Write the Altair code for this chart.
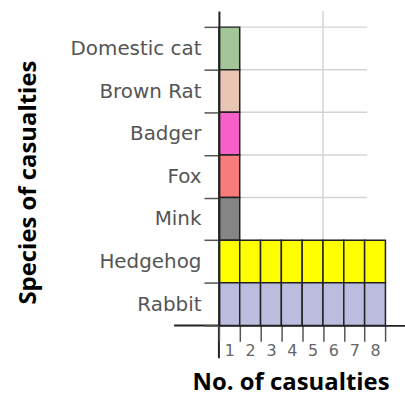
import altair as alt
import pandas as pd

species = ["Domestic cat", "Brown Rat", "Badger", "Fox", "Mink", "Hedgehog", "Rabbit"]
counts = [1, 1, 1, 1, 1, 8, 8]
colors = ["#a3c598", "#e9c5b4", "#f660c8", "#f97c7c", "#858585", "#ffff00", "#bcbcdf"]
units = [1, 2, 3, 4, 5, 6, 7, 8]
grid_units = [5]

rows = [{"species": s, "unit": u} for s, c in zip(species, counts) for u in range(1, c + 1)]
df = pd.DataFrame(rows)

W, H = 187, 316

yscale = alt.Scale(domain=species, paddingInner=0, paddingOuter=0.19, align=1)
xscale = alt.Scale(domain=units, paddingInner=0, paddingOuter=0.47, align=0)

xaxis = alt.Axis(
    title="No. of casualties",
    tickBand="extent",
    labelAngle=0,
    tickSize=16,
    tickWidth=1.5,
    tickColor="#555555",
    labelPadding=1,
    labelFont="DejaVu Sans",
    labelFontSize=16,
    labelColor="#666666",
    domainColor="#222222",
    domainWidth=2,
    grid=False,
    titleFont="Open Sans",
    titleFontWeight="bold",
    titleFontSize=24,
    titleColor="#000000",
    titleX=72,
    titleY=57,
    titleBaseline="middle",
    titleAlign="center",
    zindex=1,
)

yaxis = alt.Axis(
    title="Species of casualties",
    tickBand="extent",
    tickSize=15,
    tickWidth=1.5,
    tickColor="#555555",
    labelPadding=3,
    labelFont="DejaVu Sans",
    labelFontSize=20,
    labelColor="#555555",
    domainColor="#222222",
    domainWidth=2,
    grid=False,
    titleFont="Open Sans",
    titleFontWeight="bold",
    titleFontSize=24,
    titleColor="#000000",
    titleX=-191,
    titleY=172,
    titleBaseline="middle",
    titleAngle=-90,
    zindex=1,
)

hgrid = alt.Chart(pd.DataFrame({"species": species})).mark_rule(
    color="#d4d4d4", strokeWidth=1.5
).encode(
    y=alt.Y("species:N", scale=yscale, sort=species, bandPosition=0, axis=yaxis),
    x=alt.value(0),
    x2=alt.value(149),
)

vgrid = alt.Chart(pd.DataFrame({"unit": grid_units})).mark_rule(
    color="#d4d4d4", strokeWidth=1.5
).encode(
    x=alt.X("unit:O", scale=xscale, bandPosition=1, axis=xaxis),
    y=alt.value(0),
    y2=alt.value(H),
)

# extensions of the axis lines beyond the plot frame, as in the reference
axis_ext = alt.Chart(pd.DataFrame({"k": [0]})).mark_rule(color="#222222", strokeWidth=2).encode(
    x=alt.value(-45), x2=alt.value(0), y=alt.value(H)
)
axis_ext2 = alt.Chart(pd.DataFrame({"k": [0]})).mark_rule(color="#222222", strokeWidth=2).encode(
    x=alt.value(0), y=alt.value(H), y2=alt.value(H + 33)
)

bars = alt.Chart(df).mark_rect(stroke="#222222", strokeWidth=1.5).encode(
    x=alt.X("unit:O", scale=xscale, axis=xaxis),
    y=alt.Y("species:N", scale=yscale, sort=species, axis=yaxis),
    color=alt.Color("species:N", scale=alt.Scale(domain=species, range=colors), legend=None),
)

chart = alt.layer(hgrid, vgrid, bars, axis_ext, axis_ext2).properties(
    width=W,
    height=H,
    padding={"left": 16, "top": 0, "right": 0, "bottom": 5},
    background="#ffffff",
).configure_view(stroke=None)

chart.save("out.html", embed_options={"renderer": "svg", "actions": False})
